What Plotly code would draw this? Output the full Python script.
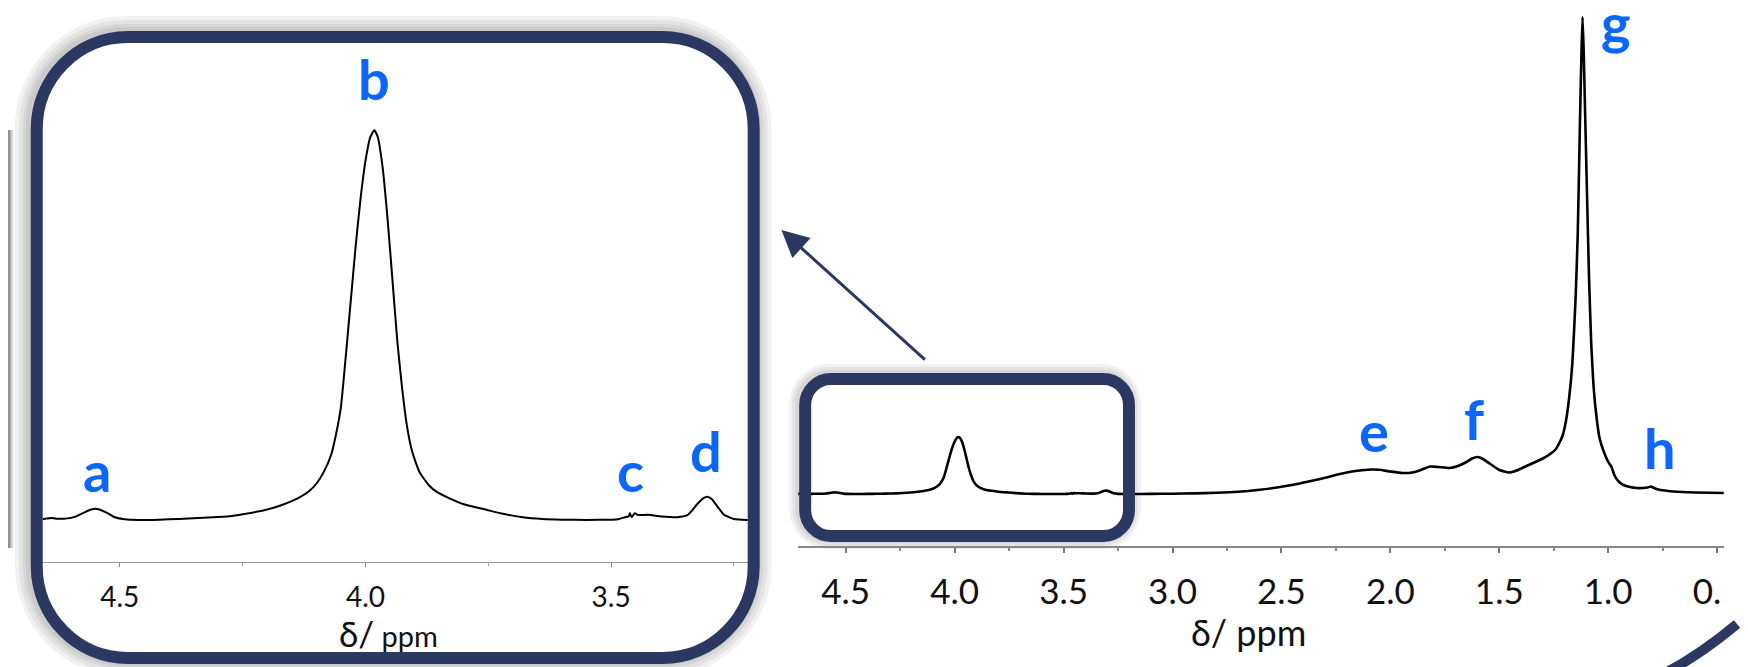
import plotly.graph_objects as go

W, H = 1748, 667
OFF = 8  # the page body has an 8px margin; compensate so content lands where the reference has it

# ---------------- data ----------------
PPM = [4.72, 4.68, 4.655, 4.64, 4.63, 4.61, 4.59, 4.575, 4.56, 4.55, 4.54, 4.525, 4.51, 4.49,
       4.46, 4.42, 4.38, 4.34, 4.30, 4.272, 4.24, 4.204, 4.17, 4.137, 4.115, 4.10, 4.085, 4.07,
       4.06, 4.05, 4.04, 4.03, 4.02, 4.01, 4.0, 3.99, 3.982, 3.975, 3.965, 3.955, 3.945, 3.935,
       3.925, 3.915, 3.905, 3.89, 3.87, 3.855, 3.83, 3.80, 3.754, 3.72, 3.68, 3.64, 3.60, 3.55,
       3.50, 3.486, 3.47, 3.464, 3.462, 3.458, 3.452, 3.446, 3.425, 3.397, 3.365, 3.345, 3.335,
       3.325, 3.312, 3.304, 3.296, 3.284, 3.27, 3.25, 3.224,
       3.20, 3.10, 3.00, 2.90, 2.80, 2.70, 2.60, 2.52, 2.445, 2.38, 2.318, 2.26, 2.205, 2.15,
       2.09, 2.05, 2.00, 1.945, 1.90, 1.86, 1.818, 1.78, 1.727, 1.69, 1.655, 1.625, 1.60, 1.575,
       1.545, 1.50, 1.455, 1.42, 1.38, 1.34, 1.30, 1.27, 1.24, 1.21, 1.195, 1.18, 1.165, 1.15,
       1.14, 1.13, 1.123, 1.118, 1.113, 1.106, 1.098, 1.088, 1.078, 1.068, 1.058, 1.04, 1.02,
       1.00, 0.985, 0.97, 0.95, 0.93, 0.90, 0.87, 0.84, 0.82, 0.805, 0.79, 0.77, 0.74, 0.70,
       0.60, 0.47]
INTENSITY = [0.1, 0.1, 0.15, 0.3, 0.2, 0.2, 0.5, 1.0, 1.5, 1.65, 1.5, 1.0, 0.4, 0.1,
             0.0, 0.05, 0.15, 0.3, 0.45, 0.6, 0.95, 1.45, 2.2, 3.2, 4.2, 5.3, 7.0, 9.5,
             12.5, 16.5, 24.0, 32.0, 40.0, 47.0, 52.5, 56.0, 57.0, 56.0, 51.5, 44.0, 35.0, 26.0,
             19.0, 13.5, 10.0, 7.0, 5.0, 4.1, 3.2, 2.3, 1.5, 0.9, 0.4, 0.15, 0.05, 0.0,
             0.05, 0.1, 0.45, 0.5, 1.0, 0.4, 1.0, 0.75, 0.75, 0.5, 0.4, 0.7, 1.4,
             2.3, 3.2, 3.4, 3.1, 2.0, 0.75, 0.15, 0.0,
             0.0, 0.1, 0.3, 0.6, 1.2, 2.2, 4.2, 6.5, 9.2, 12.2, 15.2, 18.5, 21.3, 23.3,
             24.5, 24.2, 22.5, 21.0, 21.5, 24.0, 27.5, 27.0, 26.0, 28.0, 31.5, 35.5, 37.0, 35.0,
             30.5, 24.0, 21.5, 23.5, 27.5, 31.5, 35.5, 39.5, 45.0, 58.0, 72.0, 95.0, 130.0, 195.0,
             260.0, 370.0, 440.0, 477.0, 445.0, 380.0, 305.0, 215.0, 150.0, 110.0, 85.0, 56.0, 42.0,
             32.0, 27.0, 18.0, 12.0, 9.0, 7.0, 6.0, 6.0, 6.5, 7.5, 6.0, 4.5, 3.5, 2.5,
             1.5, 1.0]

MAIN_TICKS = [4.5, 4.0, 3.5, 3.0, 2.5, 2.0, 1.5, 1.0, 0.5]
MAIN_TICK_TEXT = ["4.5", "4.0", "3.5", "3.0", "2.5", "2.0", "1.5", "1.0", "0.5"]
INSET_TICKS = [4.5, 4.0, 3.5]
INSET_TICK_TEXT = ["4.5", "4.0", "3.5"]

MAIN_LABELS = ["e", "f", "g", "h"]
MAIN_LABEL_PPM = [2.077, 1.618, 0.964, 0.764]
MAIN_LABEL_Y = [64, 76, 472, 47]
INSET_LABELS = ["a", "b", "c", "d"]
INSET_LABEL_PPM = [4.546, 3.982, 3.46, 3.306]
INSET_LABEL_Y = [7.3, 64.5, 7.2, 10.2]

AXIS_TITLE = "δ/ ppm"

# ---------------- styling helpers ----------------
NAVY = "#2A3862"
BLUE = "#0A66FF"


def PX(x):
    return (x - OFF) / W


def PY(y):
    return 1 - (y - OFF) / H


def rr_path(x0, y0, x1, y1, r):
    k = 0.5523 * r
    pts = [
        ("M", [(x0 + r, y0)]),
        ("L", [(x1 - r, y0)]),
        ("C", [(x1 - r + k, y0), (x1, y0 + r - k), (x1, y0 + r)]),
        ("L", [(x1, y1 - r)]),
        ("C", [(x1, y1 - r + k), (x1 - r + k, y1), (x1 - r, y1)]),
        ("L", [(x0 + r, y1)]),
        ("C", [(x0 + r - k, y1), (x0, y1 - r + k), (x0, y1 - r)]),
        ("L", [(x0, y0 + r)]),
        ("C", [(x0, y0 + r - k), (x0 + r - k, y0), (x0 + r, y0)]),
    ]
    s = ""
    for cmd, ps in pts:
        s += cmd + " " + " ".join(f"{PX(a):.5f},{PY(b):.5f}" for a, b in ps) + " "
    return s + "Z"


shapes = []


def boxed(x0, y0, x1, y1, r, sw, shadow_steps, dx=-2, dy=-1):
    half = sw / 2
    for e in shadow_steps:
        shapes.append(dict(type="path", xref="paper", yref="paper", layer="below",
                           path=rr_path(x0 - half - e + dx, y0 - half - e + dy,
                                        x1 + half + e + dx, y1 + half + e + dy, r + half + e),
                           fillcolor="rgba(0,0,0,0.055)", line=dict(width=0)))
    shapes.append(dict(type="path", xref="paper", yref="paper", layer="below",
                       path=rr_path(x0, y0, x1, y1, r), fillcolor="white", line=dict(width=0)))
    shapes.append(dict(type="path", xref="paper", yref="paper", layer="above",
                       path=rr_path(x0, y0, x1, y1, r), line=dict(color=NAVY, width=sw)))


# faint edge of a neighbouring panel at the far left
for w_, a_ in [(10, 0.18), (5, 0.3)]:
    shapes.append(dict(type="line", xref="paper", yref="paper", layer="below",
                       x0=PX(OFF), x1=PX(OFF), y0=PY(130), y1=PY(548),
                       line=dict(color=f"rgba(0,0,0,{a_})", width=w_)))

boxed(37, 37, 761, 658, 92, 12, [14, 10, 6, 3])
boxed(813, 379, 1140, 536, 26, 12, [8, 5, 2])

# the source picture is cropped just right of the last tick label's first digits
shapes.append(dict(type="rect", xref="paper", yref="paper", layer="above",
                   x0=PX(1740), x1=PX(1760), y0=PY(652), y1=PY(556),
                   fillcolor="white", line=dict(width=0)))

# arc in the bottom-right corner
shapes.append(dict(type="path", xref="paper", yref="paper", layer="above",
                   path=f"M {PX(1680):.5f},{PY(674):.5f} Q {PX(1718):.5f},{PY(654):.5f} {PX(1754):.5f},{PY(624):.5f}",
                   line=dict(color=NAVY, width=10)))

annotations = []
for t, xv, yv in zip(MAIN_LABELS, MAIN_LABEL_PPM, MAIN_LABEL_Y):
    annotations.append(dict(x=xv, y=yv, xref="x", yref="y", text=t, showarrow=False,
                            xanchor="center", yanchor="middle",
                            font=dict(family="Lato", size=56, color=BLUE, weight="bold")))
for t, xv, yv in zip(INSET_LABELS, INSET_LABEL_PPM, INSET_LABEL_Y):
    annotations.append(dict(x=xv, y=yv, xref="x2", yref="y2", text=t, showarrow=False,
                            xanchor="center", yanchor="middle",
                            font=dict(family="Lato", size=56, color=BLUE, weight="bold")))

# axis titles
annotations.append(dict(x=PX(1261), y=PY(632), xref="paper", yref="paper", text=AXIS_TITLE,
                        showarrow=False, xanchor="center", yanchor="middle",
                        font=dict(family="Lato", size=36, color="#111")))
annotations.append(dict(x=PX(392), y=PY(633), xref="paper", yref="paper",
                        text="<span style='font-size:35px'>δ/</span> ppm",
                        showarrow=False, xanchor="center", yanchor="middle",
                        font=dict(family="Lato", size=29, color="#111")))

# arrow pointing from the small box to the inset
annotations.append(dict(x=PX(789), y=PY(230), xref="paper", yref="paper", text="",
                        showarrow=True, ax=145, ay=131, axref="pixel", ayref="pixel",
                        arrowhead=2, arrowsize=1.8, arrowwidth=3, arrowcolor=NAVY, standoff=0))

fig = go.Figure()
fig.add_trace(go.Scatter(x=PPM, y=INTENSITY, mode="lines", xaxis="x", yaxis="y",
                         line=dict(color="black", width=2.6, shape="spline", smoothing=0.5),
                         hoverinfo="skip"))
fig.add_trace(go.Scatter(x=PPM, y=INTENSITY, mode="lines", xaxis="x2", yaxis="y2",
                         line=dict(color="black", width=2.0, shape="spline", smoothing=0.5),
                         hoverinfo="skip"))

fig.update_layout(
    width=W, height=H, margin=dict(l=0, r=0, t=0, b=0),
    paper_bgcolor="white", plot_bgcolor="rgba(0,0,0,0)", showlegend=False,
    xaxis=dict(domain=[PX(806), PX(1741)], range=[4.718, 0.468], anchor="y",
               tickmode="array", tickvals=MAIN_TICKS, ticktext=MAIN_TICK_TEXT,
               ticks="outside", ticklen=5, tickwidth=1.5, tickcolor="#777",
               showline=True, linecolor="#888", linewidth=1.5,
               showgrid=False, zeroline=False, ticklabelstandoff=9,
               ticklabeloverflow="allow",
               tickfont=dict(family="Lato", size=35, color="#111"),
               minor=dict(tickmode="linear", tick0=0, dtick=0.25, ticks="outside",
                          ticklen=3, tickcolor="#888", showgrid=False)),
    yaxis=dict(domain=[PY(546), PY(8)], range=[-52, 486], visible=False, anchor="x"),
    xaxis2=dict(domain=[PX(43), PX(755)], range=[4.657, 3.222], anchor="y2",
                tickmode="array", tickvals=INSET_TICKS, ticktext=INSET_TICK_TEXT,
                ticks="outside", ticklen=4, tickwidth=1.2, tickcolor="#888",
                showline=True, linecolor="#999", linewidth=1.3,
                showgrid=False, zeroline=False, ticklabelstandoff=6,
                tickfont=dict(family="Lato", size=28, color="#111"),
                minor=dict(tickmode="linear", tick0=0, dtick=0.25, ticks="outside",
                           ticklen=3, tickcolor="#999", showgrid=False)),
    yaxis2=dict(domain=[PY(562), PY(62)], range=[-6.14, 66.96], visible=False, anchor="x2"),
    shapes=shapes, annotations=annotations,
)

fig.write_html("out.html", config={"displayModeBar": False})
